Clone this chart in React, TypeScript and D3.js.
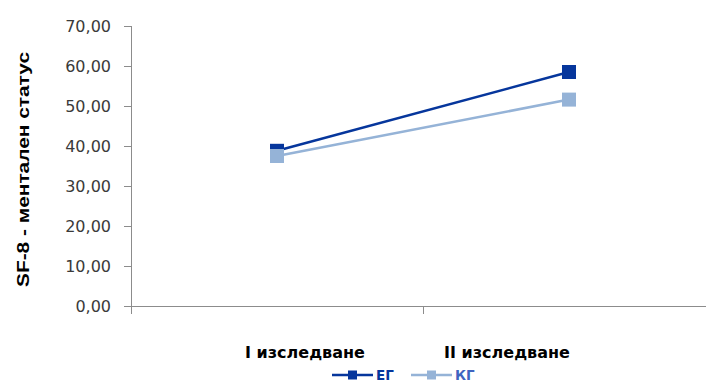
import React from "react";
import * as d3 from "d3";

const categories = ["I изследване", "II изследване"];
const seriesNames = ["ЕГ", "КГ"];
const egValues = [38.8, 58.5];
const kgValues = [37.5, 51.6];
const yTicks = [0, 10, 20, 30, 40, 50, 60, 70];
const axisTitle = "SF-8 - ментален статус";

const W = 706;
const H = 383;
const plot = { left: 131, right: 715, top: 26, bottom: 306 };
const colors = ["#06369C", "#95B3D7"];
const axisColor = "#8C8C8C";
const font = "'DejaVu Sans', Verdana, sans-serif";

export default function App() {
  const x = d3
    .scaleBand<string>()
    .domain(categories)
    .range([plot.left, plot.right])
    .padding(0);
  const y = d3.scaleLinear().domain([0, 70]).range([plot.bottom, plot.top]);
  const cx = (c: string) => (x(c) as number) + x.bandwidth() / 2;

  const series = [egValues, kgValues];
  const line = d3
    .line<number>()
    .x((_, i) => cx(categories[i]))
    .y((v) => y(v));

  const fmt = (v: number) => v.toFixed(2).replace(".", ",");
  const labelX = [305, 507];
  const legendY = 375;
  const legendItems = [
    { x0: 332, name: seriesNames[0], color: colors[0], text: colors[0] },
    { x0: 411, name: seriesNames[1], color: colors[1], text: "#3F64C0" },
  ];

  return (
    <svg
      width={W}
      height={H}
      style={{ position: "absolute", left: 0, top: 0, background: "#fff" }}
    >
      {/* y axis */}
      <line
        x1={plot.left + 0.5}
        x2={plot.left + 0.5}
        y1={plot.top}
        y2={plot.bottom + 8}
        stroke={axisColor}
        strokeWidth={1}
      />
      {yTicks.map((t) => (
        <g key={t}>
          <line
            x1={plot.left - 7}
            x2={plot.left}
            y1={Math.round(y(t)) + 0.5}
            y2={Math.round(y(t)) + 0.5}
            stroke={axisColor}
          />
          <text
            x={111}
            y={y(t)}
            dy="0.36em"
            textAnchor="end"
            fontFamily={font}
            fontSize={16}
            fill="#3A3A3A"
          >
            {fmt(t)}
          </text>
        </g>
      ))}
      {/* x axis */}
      <line
        x1={plot.left - 7}
        x2={plot.right}
        y1={plot.bottom + 0.5}
        y2={plot.bottom + 0.5}
        stroke={axisColor}
      />
      {categories.map((c) => (
        <line
          key={c}
          x1={(x(c) as number) + x.bandwidth() + 0.5}
          x2={(x(c) as number) + x.bandwidth() + 0.5}
          y1={plot.bottom}
          y2={plot.bottom + 8}
          stroke={axisColor}
        />
      ))}
      {categories.map((c, i) => (
        <text
          key={c}
          x={labelX[i]}
          y={358}
          textAnchor="middle"
          fontFamily={font}
          fontWeight="bold"
          fontSize={16}
          fill="#000"
        >
          {c}
        </text>
      ))}
      {/* axis title */}
      <text
        transform={`translate(29,${(52 + 287) / 2}) rotate(-90)`}
        textAnchor="middle"
        fontFamily="'Liberation Sans', Arial, sans-serif"
        fontWeight="bold"
        fontSize={17}
        textLength={235}
        lengthAdjust="spacingAndGlyphs"
        fill="#000"
      >
        {axisTitle}
      </text>
      {/* series */}
      {series.map((vals, si) => (
        <g key={si}>
          <path
            d={line(vals) || ""}
            fill="none"
            stroke={colors[si]}
            strokeWidth={2.5}
          />
          {vals.map((v, i) => (
            <rect
              key={i}
              x={cx(categories[i]) - 7}
              y={y(v) - 7}
              width={14}
              height={14}
              fill={colors[si]}
            />
          ))}
        </g>
      ))}
      {/* legend */}
      {legendItems.map((it) => (
        <g key={it.name}>
          <line
            x1={it.x0}
            x2={it.x0 + 41}
            y1={legendY}
            y2={legendY}
            stroke={it.color}
            strokeWidth={2.5}
          />
          <rect
            x={it.x0 + 16}
            y={legendY - 4.5}
            width={9}
            height={9}
            fill={it.color}
          />
          <text
            x={it.x0 + 44}
            y={legendY + 4.5}
            fontFamily={font}
            fontWeight="bold"
            fontSize={13.5}
            fill={it.text}
          >
            {it.name}
          </text>
        </g>
      ))}
    </svg>
  );
}
